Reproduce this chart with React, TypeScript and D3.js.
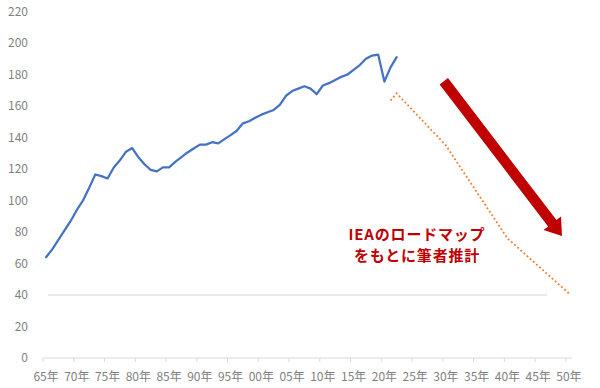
import React from "react";
import * as d3 from "d3";

const W = 600;
const H = 388;

// Actual (blue) series, 1965–2022
const actualYears: number[] = d3.range(1965, 2023);
const actualValues: number[] = [
  64, 69, 75, 81, 87, 94, 100, 108, 116.5, 115.5,
  114, 121, 125.5, 131, 133.3, 127.5, 123, 119.5, 118.5, 121,
  121, 124.5, 127.5, 130.5, 133, 135.5, 135.5, 137, 136.3, 139,
  141.5, 144.3, 149, 150.3, 152.5, 154.5, 156, 157.5, 160.7, 166.5,
  169.5, 171, 172.5, 171, 167.5, 173, 174.5, 176.5, 178.5, 180,
  183, 186, 190, 192, 192.6, 175.5, 184.5, 191,
];

// Estimate (orange dotted) key points
const estYears: number[] = [2021, 2022, 2030, 2040, 2050];
const estValues: number[] = [163.5, 168, 135, 76, 41];

const yTicks: number[] = [0, 20, 40, 60, 80, 100, 120, 140, 160, 180, 200, 220];
const xTickYears: number[] = d3.range(1965, 2051, 5);
const xTickLabels: string[] = xTickYears.map((y) => String(y % 100).padStart(2, "0") + "年");

const refLineValue = 40;
const noteLines: string[] = ["IEAのロードマップ", "をもとに筆者推計"];

const FONT = "'Noto Sans CJK JP', 'Noto Sans', sans-serif";

export default function App() {
  const x = d3.scaleLinear().domain([1964.5, 2050.5]).range([43, 572]);
  const y = d3.scaleLinear().domain([0, 220]).range([358, 11.5]);

  const line = d3
    .line<[number, number]>()
    .x((d) => x(d[0]))
    .y((d) => y(d[1]));

  const actualPath = line(actualYears.map((yr, i) => [yr, actualValues[i]]));
  const estPath = line(estYears.map((yr, i) => [yr, estValues[i]]));

  // Arrow (annotation)
  const sx = 443.8, sy = 81.3, ex = 562, ey = 236;
  const dx = ex - sx, dy = ey - sy;
  const len = Math.hypot(dx, dy);
  const ux = dx / len, uy = dy / len;
  const px = -uy, py = ux;
  const shaftW = 10.5, headW = 22, headL = 16;
  const bx = ex - ux * headL, by = ey - uy * headL;
  const pts = [
    [sx + px * shaftW / 2, sy + py * shaftW / 2],
    [bx + px * shaftW / 2, by + py * shaftW / 2],
    [bx + px * headW / 2, by + py * headW / 2],
    [ex, ey],
    [bx - px * headW / 2, by - py * headW / 2],
    [bx - px * shaftW / 2, by - py * shaftW / 2],
    [sx - px * shaftW / 2, sy - py * shaftW / 2],
  ]
    .map((p) => p.join(","))
    .join(" ");

  return (
    <svg
      width={W}
      height={H}
      style={{ position: "absolute", left: 0, top: 0, background: "#fff" }}
      fontFamily={FONT}
    >
      <rect x={0} y={0} width={W} height={H} fill="#fff" />
      {/* y tick labels */}
      {yTicks.map((t) => (
        <text
          key={t}
          x={28}
          y={y(t) - 1.5}
          textAnchor="end"
          dominantBaseline="central"
          fontSize={12}
          fill="#7f7f7f"
        >
          {t}
        </text>
      ))}
      {/* reference line at 40 */}
      <line
        x1={48}
        x2={547}
        y1={y(refLineValue)}
        y2={y(refLineValue)}
        stroke="#e3e3e3"
        strokeWidth={1.5}
      />
      {/* x axis */}
      <line x1={x(1964.5)} x2={x(2050.5)} y1={358} y2={358} stroke="#d9d9d9" strokeWidth={1} />
      {xTickYears.map((yr) => (
        <line
          key={"t" + yr}
          x1={x(yr - 0.5)}
          x2={x(yr - 0.5)}
          y1={358}
          y2={362}
          stroke="#d9d9d9"
          strokeWidth={1}
        />
      ))}
      {xTickYears.map((yr, i) => (
        <text
          key={"l" + yr}
          x={x(yr)}
          y={381}
          textAnchor="middle"
          fontSize={12}
          fill="#7f7f7f"
        >
          {xTickLabels[i]}
        </text>
      ))}
      {/* series */}
      <path
        d={estPath || ""}
        fill="none"
        stroke="#ED7D31"
        strokeWidth={1.8}
        strokeDasharray="1.8 2.4"
      />
      <path
        d={actualPath || ""}
        fill="none"
        stroke="#4472C4"
        strokeWidth={2.25}
        strokeLinejoin="round"
        strokeLinecap="round"
      />
      {/* arrow */}
      <polygon points={pts} fill="#C00000" />
      {/* note */}
      {noteLines.map((s, i) => (
        <text
          key={s}
          x={417}
          y={240 + i * 21}
          textAnchor="middle"
          fontSize={15}
          letterSpacing={0.8}
          fontWeight="bold"
          fill="#C00000"
        >
          {s}
        </text>
      ))}
    </svg>
  );
}
